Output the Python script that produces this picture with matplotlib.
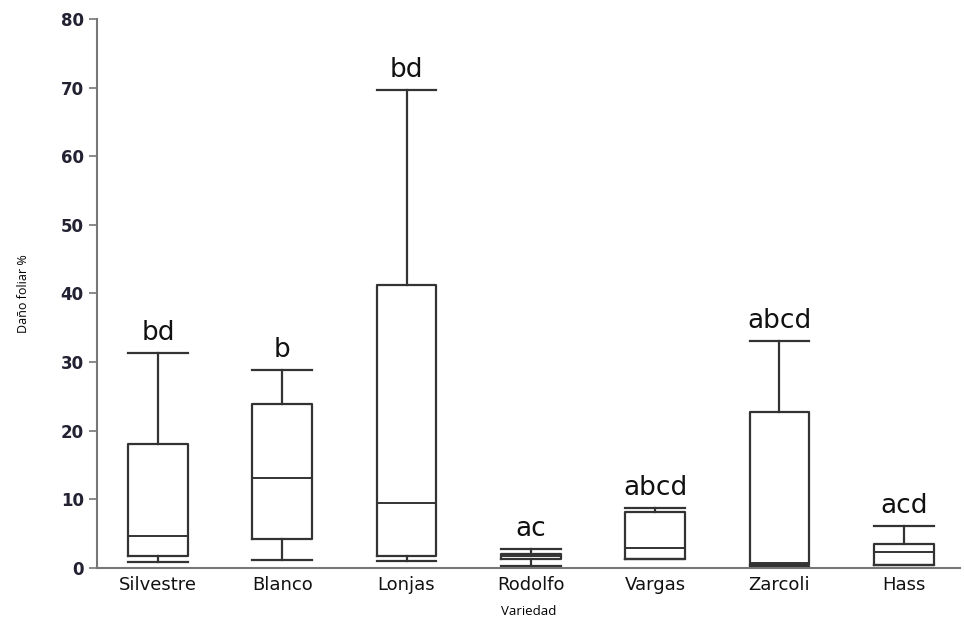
import matplotlib.pyplot as plt

# -----------------------------
# Data
# -----------------------------
varieties = ["Silvestre", "Blanco", "Lonjas", "Rodolfo", "Vargas", "Zarcoli", "Hass"]
whisker_low = [0.9, 1.1, 1.0, 0.35, 1.3, 0.1, 0.4]
q1 = [1.7, 4.2, 1.8, 1.3, 1.3, 0.5, 0.45]
median = [4.6, 13.1, 9.5, 1.7, 2.9, 0.8, 2.4]
q3 = [18.1, 23.9, 41.2, 2.1, 8.1, 22.8, 3.5]
whisker_high = [31.3, 28.9, 69.6, 2.8, 8.7, 33.1, 6.1]
letters = ["bd", "b", "bd", "ac", "abcd", "abcd", "acd"]

stats = []
for i, name in enumerate(varieties):
    stats.append(dict(label=name, whislo=whisker_low[i], q1=q1[i], med=median[i],
                      q3=q3[i], whishi=whisker_high[i], fliers=[]))

fig = plt.figure(figsize=(9.64, 6.24), dpi=100)
ax = fig.add_axes([0.1006, 0.0897, 0.895, 0.88])

line = dict(color="#333333", linewidth=1.6)
ax.bxp(stats, positions=range(1, 8), widths=0.48, showfliers=False,
       boxprops=line, whiskerprops=line, capprops=line,
       medianprops=dict(color="#333333", linewidth=1.4), capwidths=0.48)

for i, txt in enumerate(letters):
    ax.text(i + 1, whisker_high[i] + 1.0, txt, ha="center", va="bottom",
            fontsize=19, family="DejaVu Sans", color="#111111")

ax.set_xlim(0.51, 7.45)
ax.set_ylim(0, 80)
ax.set_yticks(range(0, 81, 10))
ax.tick_params(axis="y", colors="#777777", length=6, width=1.2, labelsize=12,
               labelcolor="#222233")
for lab in ax.get_yticklabels():
    lab.set_fontweight("bold")
    lab.set_family("DejaVu Sans")
ax.tick_params(axis="x", length=0, labelsize=13, labelcolor="#111111", pad=6)
for lab in ax.get_xticklabels():
    lab.set_family("DejaVu Sans")

for side in ["top", "right"]:
    ax.spines[side].set_visible(False)
for side in ["left", "bottom"]:
    ax.spines[side].set_color("#777777")
    ax.spines[side].set_linewidth(1.5)

ax.set_ylabel("Daño foliar %", fontsize=9, family="Open Sans", labelpad=22)
ax.set_xlabel("Variedad", fontsize=9.5, family="Open Sans", labelpad=8)

fig.savefig("out.png", dpi=100)
